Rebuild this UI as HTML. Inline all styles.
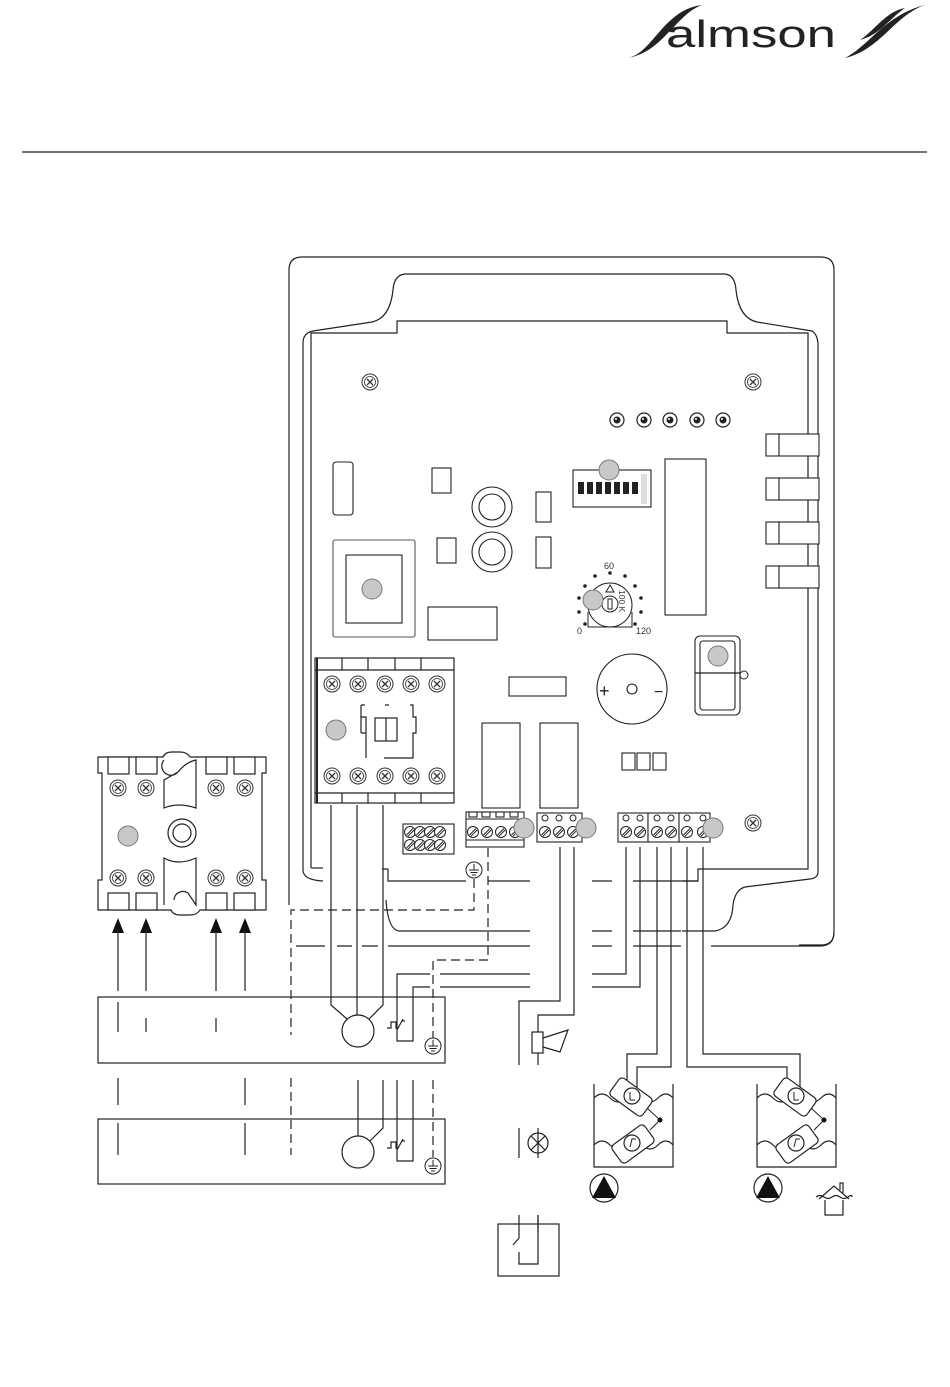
<!DOCTYPE html>
<html><head><meta charset="utf-8"><style>
html,body{margin:0;padding:0;background:#fff}
svg{display:block}
text{font-family:"Liberation Sans",sans-serif}
</style></head><body>
<svg width="950" height="1387" viewBox="0 0 950 1387" xmlns="http://www.w3.org/2000/svg">
<defs>
<g id="scr"><circle r="8" fill="#fff" stroke="#333" stroke-width="1"/><circle r="5.5" fill="none" stroke="#333" stroke-width="0.8"/><path d="M-3,-3L3,3M3,-3L-3,3" stroke="#333" stroke-width="1.3"/></g>
<g id="led"><circle r="7" fill="#fff" stroke="#222" stroke-width="1.2"/><circle r="3.5" fill="#222"/><circle cx="-1" cy="-1" r="1" fill="#fff"/></g>
<g id="ts"><circle r="5.5" fill="#fff" stroke="#222" stroke-width="1"/><path d="M-3.5,3L3,-3.5M-2,4.2L4.2,-2" stroke="#222" stroke-width="1"/></g>
<g id="earth"><circle r="8" fill="#fff" stroke="#222" stroke-width="1"/><path d="M0,-6V0M-5,0H5M-3.5,2.5H3.5M-2,5H2" stroke="#222" stroke-width="1"/></g>
<g id="gc"><circle r="10" fill="#c8c8c8" stroke="#777" stroke-width="1"/></g>
</defs>

<!-- logo -->
<text x="666" y="47" font-size="38" fill="#222" textLength="170" lengthAdjust="spacingAndGlyphs">almson</text>
<path d="M626,58 C652,56 662,10 702,5 C676,14 662,54 626,58Z" fill="#222"/>
<path d="M845,58 C870,45 885,15 925,5 C895,15 880,50 845,58Z M860,40 C875,30 885,12 905,8 C890,18 880,35 860,40Z" fill="#222"/>
<line x1="22" y1="152" x2="927" y2="152" stroke="#222" stroke-width="1.3"/>

<g fill="none" stroke="#222" stroke-width="1.2">
<path d="M289,905 V270 Q289,257 302,257 H821 Q834,257 834,270 V932 Q834,945 821,945 H799"/>
<path d="M303,870 V343 Q303,333 313,331 L372,322 Q390,318 393,290 Q394,275 405,274 H725 Q735,275 736,290 Q739,318 757,322 L812,331 Q817,334 818,343 V872 Q818,878 810,879 L745,887 Q735,890 733,905 Q732,928 715,931 H682"/>
<path d="M303,870 Q303,880 323,881"/>
<path d="M311,868 V333 H397 V321 H727 V333 H808 V869 H698 V881 H682"/>
<path d="M311,868 H323"/>
</g>

<use href="#scr" x="370" y="382"/><use href="#scr" x="753" y="382"/><use href="#scr" x="753" y="823"/>
<use href="#led" x="617" y="420"/><use href="#led" x="644" y="420"/><use href="#led" x="670" y="420"/><use href="#led" x="697" y="420"/><use href="#led" x="723" y="420"/>

<g fill="#fff" stroke="#222" stroke-width="1.1">
<rect x="766" y="434" width="13" height="22"/><rect x="779" y="434" width="40" height="22"/>
<rect x="766" y="478" width="13" height="22"/><rect x="779" y="478" width="40" height="22"/>
<rect x="766" y="522" width="13" height="22"/><rect x="779" y="522" width="40" height="22"/>
<rect x="766" y="566" width="13" height="22"/><rect x="779" y="566" width="40" height="22"/>
<rect x="333" y="462" width="20" height="53" rx="3"/>
<rect x="333" y="540" width="82" height="97" rx="2" stroke="#555"/>
<rect x="346" y="555" width="56" height="68"/>
<rect x="432" y="468" width="19" height="25"/><rect x="437" y="538" width="19" height="25"/>
<rect x="536" y="492" width="15" height="30"/><rect x="536" y="537" width="15" height="31"/>
<circle cx="492" cy="507" r="20"/><circle cx="492" cy="507" r="13"/>
<circle cx="492" cy="552" r="20"/><circle cx="492" cy="552" r="13"/>
<rect x="428" y="607" width="69" height="33"/>
<rect x="573" y="470" width="78" height="37"/>
<rect x="665" y="459" width="41" height="156"/>
<rect x="509" y="677" width="57" height="19"/>
<circle cx="632" cy="689" r="35"/><circle cx="632" cy="689" r="5"/>
<rect x="695" y="636" width="45" height="79" rx="5"/><rect x="700" y="641" width="35" height="69" rx="3"/>
<rect x="482" y="723" width="38" height="85"/><rect x="540" y="723" width="38" height="85"/>
<rect x="622" y="753" width="13" height="17"/><rect x="637" y="753" width="13" height="17"/><rect x="653" y="753" width="13" height="17"/>
</g>
<line x1="695" y1="673" x2="740" y2="673" stroke="#222" stroke-width="1.2"/>
<circle cx="744" cy="675" r="4" fill="#fff" stroke="#222"/>
<g fill="#222"><rect x="578" y="482" width="6" height="12"/><rect x="587" y="482" width="6" height="12"/><rect x="596" y="482" width="6" height="12"/><rect x="605" y="482" width="6" height="12"/><rect x="614" y="482" width="6" height="12"/><rect x="623" y="482" width="6" height="12"/><rect x="632" y="482" width="6" height="12"/></g>
<rect x="641" y="474" width="6" height="30" fill="#ddd"/>
<text x="654" y="697" font-size="16" fill="#222">−</text>
<text x="599" y="697" font-size="18" fill="#222">+</text>

<g fill="#222"><circle cx="610" cy="573" r="1.8"/><circle cx="595" cy="576" r="1.8"/><circle cx="625" cy="576" r="1.8"/><circle cx="585" cy="586" r="1.8"/><circle cx="635" cy="586" r="1.8"/><circle cx="579" cy="598" r="1.8"/><circle cx="641" cy="598" r="1.8"/><circle cx="579" cy="612" r="1.8"/><circle cx="641" cy="612" r="1.8"/><circle cx="585" cy="624" r="1.8"/><circle cx="635" cy="624" r="1.8"/></g>
<circle cx="610" cy="605" r="22" fill="#fff" stroke="#222" stroke-width="1"/>
<path d="M588,612 V627 H632 V612" fill="none" stroke="#222"/>
<circle cx="610" cy="604" r="8" fill="#fff" stroke="#222"/><rect x="608" y="599" width="4" height="10" fill="none" stroke="#222"/>
<path d="M606,592 L610,585 L614,592Z" fill="none" stroke="#222"/>
<text x="604" y="569" font-size="9" fill="#333">60</text>
<text x="577" y="634" font-size="9" fill="#333">0</text>
<text x="636" y="634" font-size="9" fill="#333">120</text>
<text x="619" y="590" font-size="8.5" fill="#333" transform="rotate(90 619 590)">100 K</text>

<g fill="#fff" stroke="#222" stroke-width="1.2">
<rect x="315" y="658" width="139" height="145"/>
<path d="M315,670 H454 M315,793 H454" fill="none"/>
<path d="M317,658V803" stroke-width="2" fill="none"/>
<path d="M342,658V670M368,658V670M395,658V670M421,658V670M342,793V803M368,793V803M395,793V803M421,793V803" fill="none"/>
<path d="M361,705 H365 M385,705 H389 M410,705 H413 V717 H416 V733 H413 V758 H384 M366,758 V746 M366,733 V717 H362 M361,705 V717 H366 M361,733 H366 V758 M361,733 V717" fill="none"/>
<rect x="375" y="718" width="22" height="23"/><line x1="386" y1="718" x2="386" y2="741"/>
</g>
<use href="#scr" x="332" y="684"/><use href="#scr" x="358" y="684"/><use href="#scr" x="385" y="684"/><use href="#scr" x="411" y="684"/><use href="#scr" x="437" y="684"/>
<use href="#scr" x="332" y="776"/><use href="#scr" x="358" y="776"/><use href="#scr" x="385" y="776"/><use href="#scr" x="411" y="776"/><use href="#scr" x="437" y="776"/>

<g fill="#fff" stroke="#222" stroke-width="1.1">
<rect x="403" y="824" width="51" height="30"/>
<rect x="466" y="812" width="58" height="35"/><line x1="466" y1="819" x2="524" y2="819"/><line x1="466" y1="840" x2="524" y2="840"/>
<rect x="469" y="812" width="8" height="5"/><rect x="482" y="812" width="8" height="5"/><rect x="496" y="812" width="8" height="5"/><rect x="510" y="812" width="8" height="5"/>
<rect x="537" y="813" width="45" height="29"/>
<rect x="618" y="813" width="30" height="29"/><rect x="648" y="813" width="31" height="29"/><rect x="679" y="813" width="31" height="29"/>
</g>
<g>
<use href="#ts" x="410" y="832"/><use href="#ts" x="420" y="832"/><use href="#ts" x="430" y="832"/><use href="#ts" x="440" y="832"/>
<use href="#ts" x="410" y="845"/><use href="#ts" x="420" y="845"/><use href="#ts" x="430" y="845"/><use href="#ts" x="440" y="845"/>
<use href="#ts" x="473" y="832"/><use href="#ts" x="487" y="832"/><use href="#ts" x="501" y="832"/><use href="#ts" x="515" y="832"/>
<use href="#ts" x="545" y="832"/><use href="#ts" x="559" y="832"/><use href="#ts" x="573" y="832"/>
<use href="#ts" x="626" y="832"/><use href="#ts" x="640" y="832"/><use href="#ts" x="657" y="832"/><use href="#ts" x="671" y="832"/><use href="#ts" x="687" y="832"/><use href="#ts" x="703" y="832"/>
</g>
<g fill="#fff" stroke="#222"><circle cx="545" cy="818" r="3"/><circle cx="559" cy="818" r="3"/><circle cx="573" cy="818" r="3"/><circle cx="626" cy="818" r="3"/><circle cx="640" cy="818" r="3"/><circle cx="657" cy="818" r="3"/><circle cx="671" cy="818" r="3"/><circle cx="687" cy="818" r="3"/><circle cx="703" cy="818" r="3"/></g>

<use href="#gc" x="372" y="589"/><use href="#gc" x="609" y="470"/><use href="#gc" x="593" y="600"/><use href="#gc" x="718" y="656"/><use href="#gc" x="336" y="730"/>
<use href="#gc" x="524" y="828"/><use href="#gc" x="586" y="828"/><use href="#gc" x="713" y="828"/>
<use href="#earth" x="474" y="870"/>

<g fill="#fff" stroke="#222" stroke-width="1.2">
<path d="M98,757 H163 Q165,752 172,752 H180 Q187,752 190,757 H266 V773 H262 V880 H266 V910 H200 Q197,915 190,915 H180 Q173,915 171,910 H98 V880 H102 V773 H98Z"/>
<rect x="108" y="757" width="21" height="17"/><rect x="136" y="757" width="21" height="17"/><rect x="206" y="757" width="21" height="17"/><rect x="234" y="757" width="21" height="17"/>
<rect x="108" y="893" width="21" height="17"/><rect x="136" y="893" width="21" height="17"/><rect x="206" y="893" width="21" height="17"/><rect x="234" y="893" width="21" height="17"/>
<path d="M164,760 A9,9 0 0 0 178,772 L164,780 V808 Q178,802 196,808 V760 Q186,762 178,772"/>
<path d="M164,905 V858 Q178,866 196,858 V905 L188,893 A9,9 0 0 0 174,900"/>
<circle cx="182" cy="833" r="14"/><circle cx="182" cy="833" r="9"/>
</g>
<use href="#scr" x="118" y="788"/><use href="#scr" x="146" y="788"/><use href="#scr" x="216" y="788"/><use href="#scr" x="245" y="788"/>
<use href="#scr" x="118" y="878"/><use href="#scr" x="146" y="878"/><use href="#scr" x="216" y="878"/><use href="#scr" x="245" y="878"/>
<use href="#gc" x="128" y="836"/>
<g fill="#111"><path d="M112,933 L118,918 L124,933Z M140,933 L146,918 L152,933Z M210,933 L216,918 L222,933Z M239,933 L245,918 L251,933Z"/></g>

<g fill="none" stroke="#222" stroke-width="1.2">
<path d="M118,930V991M146,930V991M216,930V991M245,930V991"/>
<rect x="98" y="997" width="347" height="66"/>
<rect x="98" y="1119" width="347" height="65"/>
<path d="M118,1002V1032M146,1018V1032M216,1018V1032M118,1078V1105M118,1123V1155M245,1078V1105M245,1123V1155"/>
<path d="M331,805V1005L347,1019M357,805V1015M383,805V1005L369,1019"/>
<circle cx="358" cy="1031" r="16"/>
<path d="M358,1080V1136M383,1080V1128L370,1141"/>
<circle cx="358" cy="1152" r="16"/>
<path d="M430,974H397V1041H413V987H430"/>
<path d="M387,1028H391V1022H396V1028H398M397,1030L403,1019M402,1021H405"/>
<path d="M397,1080V1161H413V1080"/>
<path d="M387,1148H391V1142H396V1148H398M397,1150L403,1139M402,1141H405"/>
<path d="M388,869H382M388,869V881H466M488,881H530M592,881H612M633,881H681H698"/>
<path d="M386,900Q388,931 400,931H530M592,931H612M633,931H681"/>
<path d="M296,946H325M337,946H352M362,946H378M388,946H530M592,946H612M633,946H681M711,946H820Q834,946 834,932"/>
<path d="M440,974H530M592,974H626V847M440,987H530M592,987H640V847"/>
<path d="M560,847V1001H519V1065M574,847V1015H538V1032M538,1053V1065"/>
<path d="M519,1128V1158M538,1128V1158M538,1215V1232"/>
<path d="M657,847V1054H627V1100M671,847V1067H637V1100"/>
<path d="M687,847V1067H787V1100M703,847V1054H800V1100"/>
<rect x="532" y="1032" width="11" height="21"/>
<path d="M543,1038L568,1030L560,1052L543,1047"/>
<circle cx="538" cy="1143" r="10"/><path d="M531,1136L545,1150M545,1136L531,1150"/>
<rect x="498" y="1224" width="61" height="52"/>
<path d="M519,1215V1238L513,1245M519,1252V1264H538V1215"/>
<path d="M594,1084V1167H673V1084M757,1084V1167H836V1084"/>
<path d="M594,1098Q602,1090 610,1098T626,1098T642,1098T658,1098T673,1098M594,1145Q602,1137 610,1145T626,1145T642,1145T658,1145T673,1145"/>
<path d="M757,1098Q765,1090 773,1098T789,1098T805,1098T821,1098T836,1098M757,1145Q765,1137 773,1145T789,1145T805,1145T821,1145T836,1145"/>
<circle cx="604" cy="1188" r="14"/><circle cx="768" cy="1188" r="14"/>
<path d="M825,1200V1215H843V1200M819,1199L834,1186L849,1199M840,1190V1183H843V1193M816,1197Q820,1194 824,1197T832,1197T840,1197T848,1197T852,1197"/>
</g>
<g fill="#fff" stroke="#222" stroke-width="1.2">
<rect x="-20" y="-11" width="40" height="22" rx="4" transform="translate(631,1097) rotate(36)"/>
<rect x="-20" y="-11" width="40" height="22" rx="4" transform="translate(633,1144) rotate(-36)"/>
<rect x="-20" y="-11" width="40" height="22" rx="4" transform="translate(795,1097) rotate(36)"/>
<rect x="-20" y="-11" width="40" height="22" rx="4" transform="translate(797,1144) rotate(-36)"/>
<circle cx="632" cy="1096" r="8"/><circle cx="632" cy="1143" r="8"/><circle cx="796" cy="1096" r="8"/><circle cx="796" cy="1143" r="8"/>
</g>
<g fill="none" stroke="#222" stroke-width="1"><path d="M647,1108L660,1120L650,1130M811,1108L824,1120L814,1130M630,1147L632,1139H636M794,1147L796,1139H800M630,1092V1100H635M794,1092V1100H799"/></g>
<circle cx="660" cy="1120" r="2.5" fill="#111"/><circle cx="824" cy="1120" r="2.5" fill="#111"/>
<path d="M592,1198L604,1176L616,1198Z M756,1198L768,1176L780,1198Z" fill="#111"/>

<g fill="none" stroke="#222" stroke-width="1.2" stroke-dasharray="9,5">
<path d="M474,879V910H291V1035"/>
<path d="M291,1078V1155"/>
<path d="M488,848V960H433V1038"/>
<path d="M433,1080V1157"/>
</g>
<use href="#earth" x="433" y="1046"/><use href="#earth" x="433" y="1166"/>
</svg>
</body></html>
